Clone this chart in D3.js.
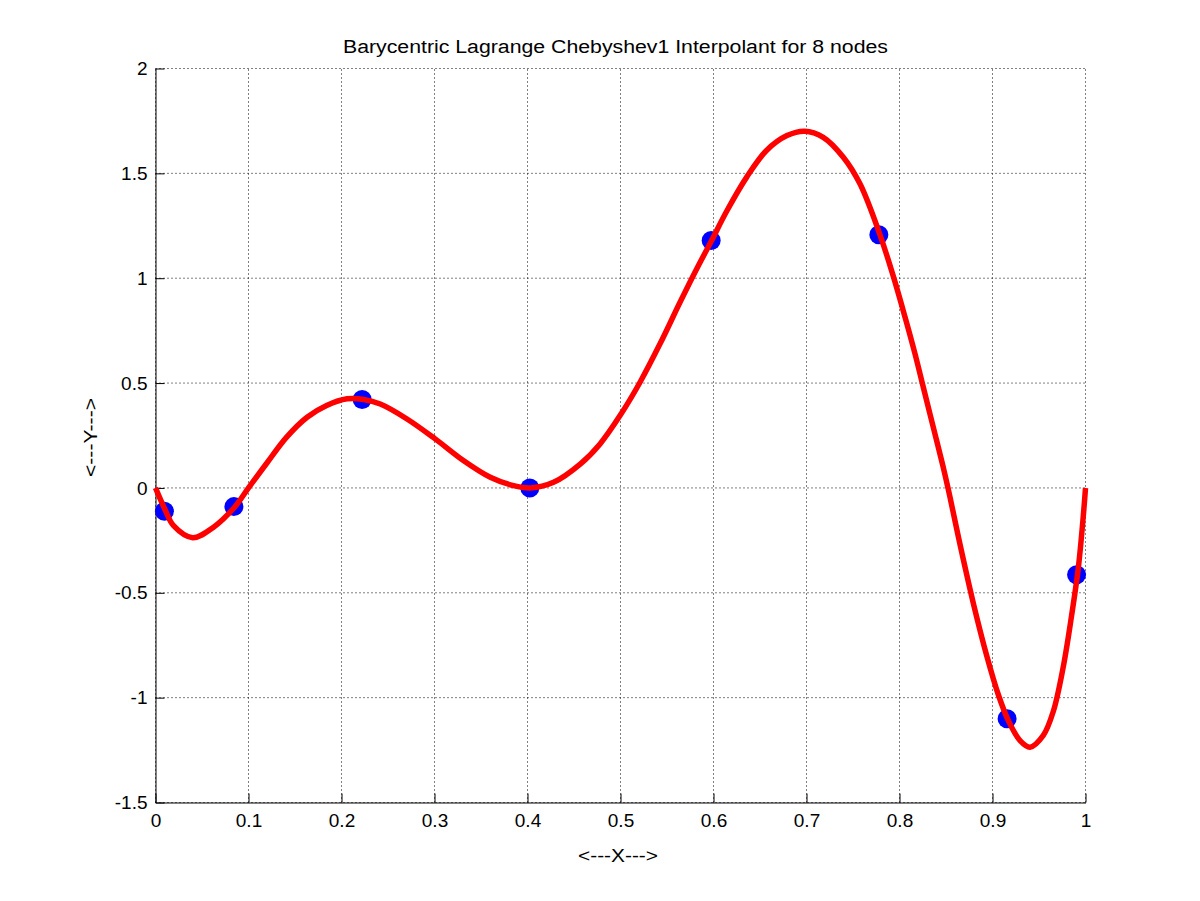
<!DOCTYPE html>
<html><head><meta charset="utf-8">
<script src="https://cdn.jsdelivr.net/npm/d3@7"></script>
<style>
body{margin:0;background:#fff}
svg{display:block}
text{font-family:"Liberation Sans",Arial,Helvetica,sans-serif;fill:#000}
</style>
</head><body>
<svg id="chart" width="1200" height="901"></svg>
<script>
// ---- data ----
const titleText = "Barycentric Lagrange Chebyshev1 Interpolant for 8 nodes";
const xLabelText = "<---X--->";
const yLabelText = "<---Y--->";

const xTicks = [0, 0.1, 0.2, 0.3, 0.4, 0.5, 0.6, 0.7, 0.8, 0.9, 1];
const xTickLabels = ["0", "0.1", "0.2", "0.3", "0.4", "0.5", "0.6", "0.7", "0.8", "0.9", "1"];
const yTicks = [-1.5, -1, -0.5, 0, 0.5, 1, 1.5, 2];
const yTickLabels = ["-1.5", "-1", "-0.5", "0", "0.5", "1", "1.5", "2"];

// Chebyshev (first kind) nodes and sampled values
const nodeX = [0.0096, 0.0843, 0.2222, 0.4025, 0.5975, 0.7778, 0.9157, 0.9904];
const nodeY = [-0.111, -0.089, 0.422, 0.000, 1.180, 1.207, -1.101, -0.414];

// interpolant curve
const curveX = [0.000, 0.0104, 0.0194, 0.040, 0.0624, 0.085, 0.100, 0.120, 0.141, 0.163, 0.184, 0.206, 0.224, 0.2417, 0.270,
  0.3007, 0.331, 0.360, 0.385, 0.403, 0.428, 0.457, 0.478, 0.4995, 0.521, 0.5425, 0.564, 0.582, 0.598, 0.614, 0.6357,
  0.657, 0.679, 0.698, 0.718, 0.7396, 0.7575, 0.779, 0.7933, 0.806, 0.8167, 0.8256, 0.8363, 0.847, 0.8543, 0.8656,
  0.8794, 0.8938, 0.9062, 0.917, 0.9296, 0.9403, 0.9546, 0.9654, 0.976, 0.985, 0.9923, 0.9977, 1.000];
const curveY = [0.000, -0.105, -0.180, -0.237, -0.187, -0.092, 0.000, 0.120, 0.242, 0.337, 0.393, 0.425, 0.422, 0.400, 0.330,
  0.234, 0.131, 0.051, 0.011, 0.000, 0.027, 0.115, 0.210, 0.345, 0.504, 0.687, 0.885, 1.045, 1.180, 1.318, 1.482,
  1.609, 1.680, 1.701, 1.672, 1.577, 1.450, 1.207, 1.010, 0.814, 0.639, 0.480, 0.290, 0.099, -0.044, -0.280,
  -0.550, -0.800, -0.985, -1.109, -1.205, -1.236, -1.180, -1.065, -0.855, -0.610, -0.380, -0.130, 0.000];

(function () {
  // ---- layout ----
  const W = 1200, H = 901;
  const mLeft = 155.5, mRight = 1085.5, mTop = 68.5, mBottom = 802.5;

  const svg = d3.select("#chart");
  svg.append("rect").attr("width", W).attr("height", H).attr("fill", "#fff");

  const x = d3.scaleLinear().domain([0, 1]).range([mLeft, mRight]);
  const y = d3.scaleLinear().domain([-1.5, 2]).range([mBottom, mTop]);

  // grid
  const grid = svg.append("g").attr("stroke", "#000").attr("stroke-width", 1).attr("stroke-dasharray", "1,3");
  grid.selectAll(".gx").data(xTicks).join("line").attr("class", "gx")
    .attr("x1", d => x(d)).attr("x2", d => x(d)).attr("y1", mBottom).attr("y2", mTop);
  grid.selectAll(".gy").data(yTicks).join("line").attr("class", "gy")
    .attr("x1", mLeft).attr("x2", mRight).attr("y1", d => y(d)).attr("y2", d => y(d));

  // axes
  const xAxis = d3.axisBottom(x).tickValues(xTicks).tickSizeInner(-9).tickSizeOuter(0).tickPadding(11)
    .tickFormat((d, i) => xTickLabels[i]);
  const yAxis = d3.axisLeft(y).tickValues(yTicks).tickSizeInner(-9).tickSizeOuter(0).tickPadding(8)
    .tickFormat((d, i) => yTickLabels[i]);

  const gx = svg.append("g").attr("transform", `translate(0,${mBottom})`).call(xAxis);
  const gy = svg.append("g").attr("transform", `translate(${mLeft},0)`).call(yAxis);
  [gx, gy].forEach(g => {
    g.selectAll("path.domain").attr("stroke", "#000").attr("stroke-width", 1);
    g.selectAll(".tick line").attr("stroke", "#000").attr("stroke-width", 1);
    g.selectAll(".tick text").attr("font-size", 19).attr("font-family", "Liberation Sans, Arial, sans-serif").attr("fill", "#000");
  });

  // curve
  const pts = curveX.map((v, i) => [v, curveY[i]]);
  const line = d3.line().x(d => x(d[0])).y(d => y(d[1])).curve(d3.curveCatmullRom.alpha(0.5));

  // nodes (drawn under the curve)
  svg.append("g").selectAll("circle").data(nodeX).join("circle")
    .attr("cx", d => x(d)).attr("cy", (d, i) => y(nodeY[i])).attr("r", 9.5).attr("fill", "#0000ff");

  svg.append("path").datum(pts).attr("d", line)
    .attr("fill", "none").attr("stroke", "#ff0000").attr("stroke-width", 5.5)
    .attr("stroke-linejoin", "round").attr("stroke-linecap", "butt");

  // title & labels
  svg.append("text").attr("x", 615.5).attr("y", 53).attr("text-anchor", "middle")
    .attr("font-size", 18).attr("textLength", 545).attr("lengthAdjust", "spacingAndGlyphs").text(titleText);
  svg.append("text").attr("x", 618).attr("y", 862).attr("text-anchor", "middle")
    .attr("font-size", 18).attr("textLength", 80).attr("lengthAdjust", "spacingAndGlyphs").text(xLabelText);
  svg.append("text").attr("transform", "translate(97,437.5) rotate(-90)").attr("text-anchor", "middle")
    .attr("font-size", 18).attr("textLength", 79).attr("lengthAdjust", "spacingAndGlyphs").text(yLabelText);
})();
</script>
</body></html>
